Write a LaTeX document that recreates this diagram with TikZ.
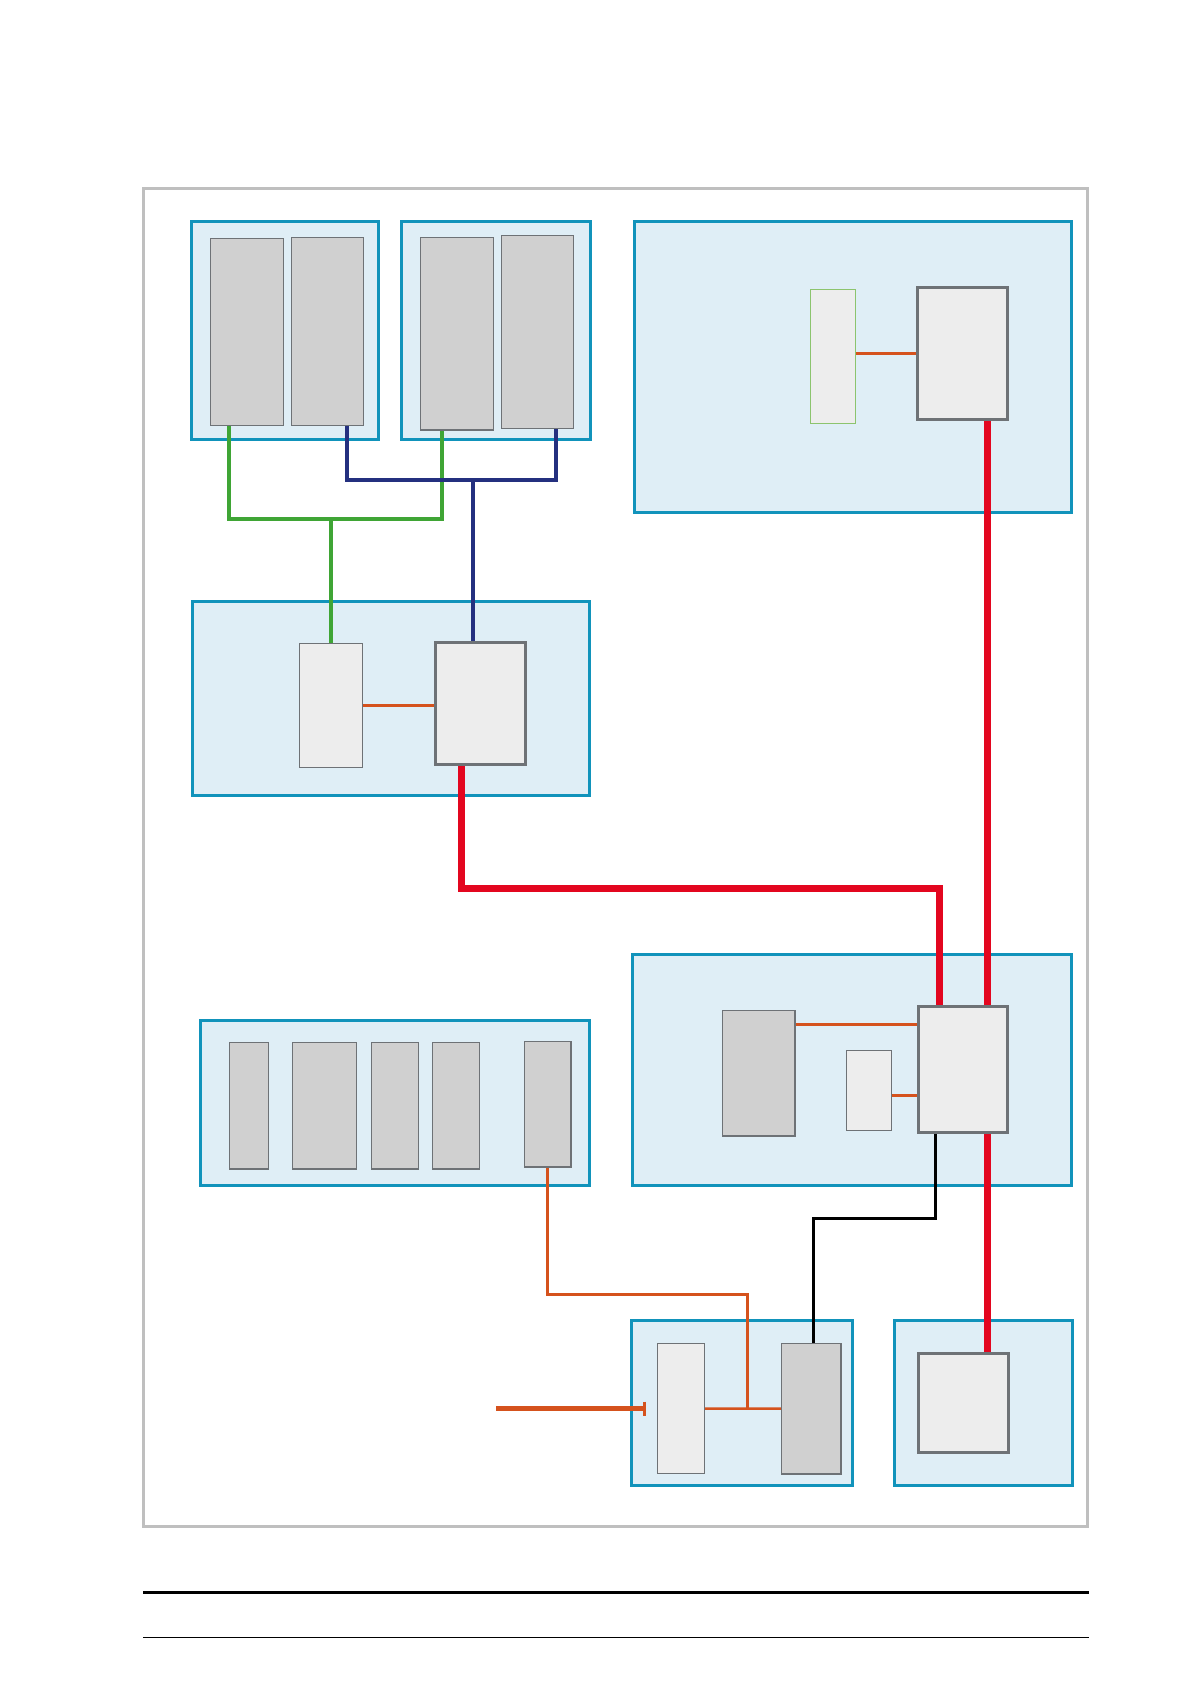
\documentclass[tikz,border=0pt]{standalone}
\usetikzlibrary{arrows.meta}
\definecolor{framegray}{HTML}{BFBFBF}
\definecolor{blueline}{HTML}{1193BB}
\definecolor{bluefill}{HTML}{DFEEF6}
\definecolor{dkfill}{HTML}{D0D0D0}
\definecolor{ltfill}{HTML}{EDEDED}
\definecolor{boxborder}{HTML}{6E7276}
\definecolor{lightgreen}{HTML}{8CC46E}
\definecolor{redline}{HTML}{E3061F}
\definecolor{greenline}{HTML}{3FA535}
\definecolor{navyline}{HTML}{24307F}
\definecolor{orangeline}{HTML}{D5521D}
\pgfdeclarelayer{bg}
\pgfdeclarelayer{conn}
\pgfsetlayers{bg,conn,main}
\begin{document}
\begin{tikzpicture}[x=1pt,y=-1pt,
  grp/.style={draw=blueline, fill=bluefill, line width=3pt, inner sep=0pt, outer sep=0pt},
  dkbox/.style={draw=boxborder, fill=dkfill, line width=1.5pt, inner sep=0pt, outer sep=0pt},
  ltbox/.style={draw=boxborder, fill=ltfill, line width=1.5pt, inner sep=0pt, outer sep=0pt},
  ltthick/.style={ltbox, line width=3pt},
  redc/.style={draw=redline, line width=7pt},
  greenc/.style={draw=greenline, line width=4pt},
  navyc/.style={draw=navyline, line width=4pt},
  orc/.style={draw=orangeline, line width=2.5pt},
  orthick/.style={draw=orangeline, line width=5pt},
  blackc/.style={draw=black, line width=3pt}]
\useasboundingbox (0,0) rectangle (1191,1684);

% group boxes
\begin{pgfonlayer}{bg}
\fill[white] (0,0) rectangle (1191,1684);
\node[grp, minimum width=186.6pt, minimum height=217.6pt] (A) at (285,330.5) {};
\node[grp, minimum width=188.3pt, minimum height=217.6pt] (B) at (495.85,330.5) {};
\node[grp, minimum width=437.7pt, minimum height=290.6pt] (D) at (852.85,367) {};
\node[grp, minimum width=396.3pt, minimum height=194.7pt] (C) at (390.85,698.35) {};
\node[grp, minimum width=439pt, minimum height=231.7pt] (E) at (852.2,1069.85) {};
\node[grp, minimum width=389.3pt, minimum height=165.7pt] (H) at (394.65,1102.85) {};
\node[grp, minimum width=221.7pt, minimum height=165pt] (G) at (741.85,1403.2) {};
\node[grp, minimum width=178pt, minimum height=165.7pt] (F) at (983,1402.85) {};
\end{pgfonlayer}

% outer frame and page rules
\draw[framegray, line width=3pt] (143,188) rectangle (1087,1526);
\draw[black, line width=2.5pt] (143,1592.6) -- (1089,1592.6);
\draw[black, line width=1.2pt] (143,1637.7) -- (1089,1637.7);

% inner boxes
\node[dkbox, minimum width=72.6pt, minimum height=187.4pt] (A1) at (247,332) {};
\node[dkbox, minimum width=71.6pt, minimum height=188pt] (A2) at (327.5,331.7) {};
\node[dkbox, minimum width=72.6pt, minimum height=192.3pt] (B1) at (457,333.85) {};
\node[dkbox, minimum width=71.6pt, minimum height=193pt] (B2) at (537.5,332.2) {};
\node[draw=lightgreen, fill=ltfill, line width=1pt, inner sep=0pt, outer sep=0pt, minimum width=45pt, minimum height=134pt] (D1) at (832.8,356.3) {};
\node[ltthick, minimum width=90pt, minimum height=132pt] (D2) at (962.7,353.3) {};
\node[ltbox, minimum width=63pt, minimum height=124pt] (C1) at (330.8,705.3) {};
\node[ltthick, minimum width=90pt, minimum height=121.6pt] (C2) at (480,703.5) {};
\node[dkbox, minimum width=72.3pt, minimum height=125.3pt] (E1) at (758.85,1073.35) {};
\node[ltbox, minimum width=44.6pt, minimum height=79.6pt] (E2) at (869,1090.5) {};
\node[ltthick, minimum width=89.4pt, minimum height=126.7pt] (E3) at (963,1069.35) {};
\node[dkbox, minimum width=39pt, minimum height=126.3pt] (H1) at (248.8,1105.85) {};
\node[dkbox, minimum width=64pt, minimum height=126.3pt] (H2) at (324.7,1105.85) {};
\node[dkbox, minimum width=47pt, minimum height=126.3pt] (H3) at (394.8,1105.85) {};
\node[dkbox, minimum width=46.6pt, minimum height=126.3pt] (H4) at (456,1105.85) {};
\node[dkbox, minimum width=46.7pt, minimum height=125.7pt] (H5) at (547.65,1104.15) {};
\node[ltbox, minimum width=46.6pt, minimum height=130pt] (G1) at (681,1408.7) {};
\node[dkbox, minimum width=59.3pt, minimum height=130.7pt] (G2) at (811.35,1408.65) {};
\node[ltthick, minimum width=90pt, minimum height=99.4pt] (F1) at (963.3,1403) {};

% junction coordinates
\coordinate (g1) at (229.3,519);
\coordinate (g2) at (442.3,519);
\coordinate (g3) at (331.3,519);
\coordinate (n1) at (347.3,480);
\coordinate (n2) at (555.7,480);
\coordinate (n3) at (472.7,480);
\coordinate (r1) at (461,888.3);
\coordinate (r2) at (939,888.3);
\coordinate (rx) at (987,0);
\coordinate (k1) at (935.7,1218.3);
\coordinate (k2) at (813.3,1218.3);
\coordinate (o1) at (547.3,1294.3);
\coordinate (o2) at (747.3,1294.3);
\coordinate (feed) at (496,1408.7);

\begin{pgfonlayer}{conn}
\draw[greenc] (g1 |- A1.south) -- (g1) -- (g2) -- (g2 |- B1.south);
\draw[greenc] (g3) -- (g3 |- C1.north);
\draw[navyc] (n1 |- A2.south) -- (n1) -- (n2) -- (n2 |- B2.south);
\draw[navyc] (n3) -- (n3 |- C2.north);
\draw[redc] (r1 |- C2.south) -- (r1) -- (r2) -- (r2 |- E3.north);
\draw[redc] (rx |- D2.south) -- (rx |- E3.north);
\draw[redc] (rx |- E3.south) -- (rx |- F1.north);
\draw[blackc] (k1 |- E3.south) -- (k1) -- (k2) -- (k2 |- G2.north);
\draw[orc] (o1 |- H5.south) -- (o1) -- (o2) -- (o2 |- G2.west);
\draw[orc] (G1.east) -- (G2.west);
\draw[orc] (D2.west) -- (D2.west -| D1.east);
\draw[orc] (C1.east) -- (C1.east -| C2.west);
\draw[orc] ([yshift=-14pt]E1.north east) -- ([yshift=-14pt]E1.north east -| E3.west);
\draw[orc] ([yshift=-5pt]E2.east) -- ([yshift=-5pt]E2.east -| E3.west);
\draw[orthick, -{Bar[width=14pt, line width=2.5pt]}] (feed) -- ([xshift=-12pt]G1.west);
\end{pgfonlayer}
\end{tikzpicture}
\end{document}
